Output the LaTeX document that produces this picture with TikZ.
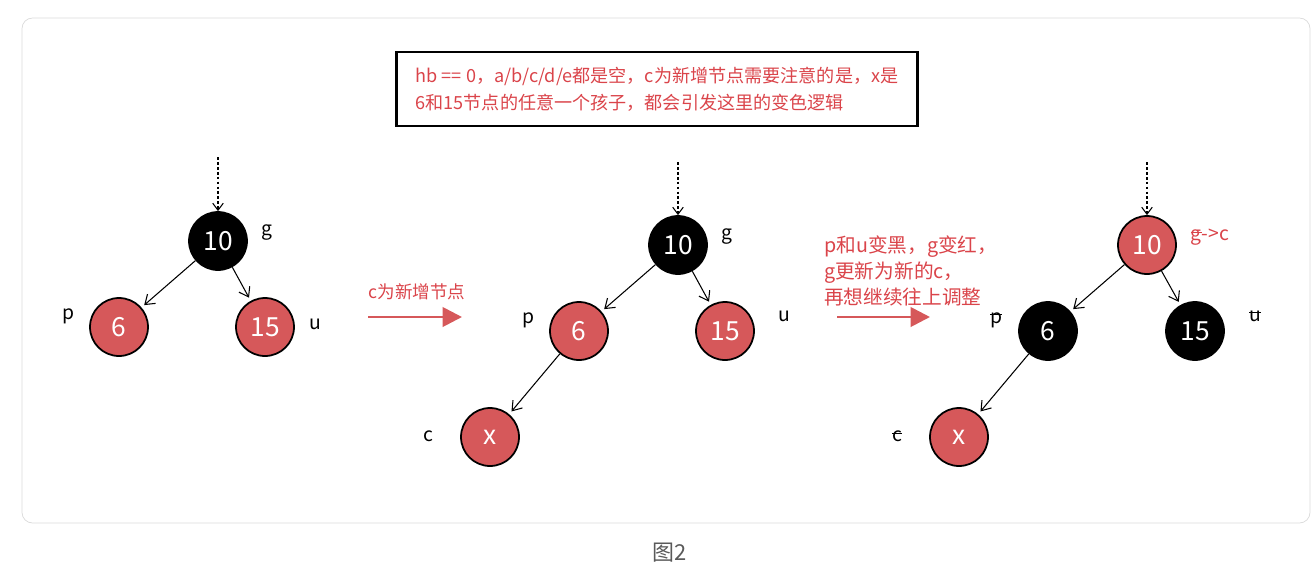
\documentclass[tikz,border=0pt]{standalone}
\usepackage{fontspec}
\setmainfont{Noto Sans CJK SC}
\usetikzlibrary{arrows.meta}
\definecolor{rbred}{RGB}{214,88,90}
\definecolor{txtred}{RGB}{218,68,74}
\definecolor{capgray}{RGB}{90,90,90}
\newcommand{\strk}[1]{\setbox0\hbox{#1}\rlap{\rule[0.75ex]{\wd0}{0.5pt}}\box0}
\tikzset{
  rbnode/.style={circle, draw=black, line width=1pt, minimum size=1.16cm, inner sep=0pt,
    text=white, font=\fontsize{15}{18}\selectfont},
  blknode/.style={rbnode, fill=black},
  rednode/.style={rbnode, fill=rbred},
  edge/.style={-{Straight Barb[length=5pt,width=7pt]}, line width=0.6pt, shorten >=2pt},
  dotarrow/.style={-{Straight Barb[length=4pt,width=6pt]}, dash pattern=on 1.6pt off 1.2pt, line width=0.6pt},
  lbl/.style={font=\fontsize{11}{13}\selectfont},
  redlbl/.style={text=txtred, font=\fontsize{10}{15}\selectfont, align=left},
  bigarrow/.style={-{Triangle[length=11pt,width=11pt]}, rbred, line width=1.6pt},
}
\begin{document}
\begin{tikzpicture}[x=0.02cm, y=-0.02cm]
  \useasboundingbox (0,0) rectangle (1316,569);
  % Tarjeta de fondo
  \draw[gray!30, rounded corners=6pt] (22,18) rectangle (1310,523);

  % Nota superior
  \node[draw=black, line width=1.6pt, minimum width=10.42cm, minimum height=1.48cm,
    text=txtred, font=\fontsize{10.3}{15.3}\selectfont, align=left] (note) at (657,89)
    {hb == 0，a/b/c/d/e都是空，c为新增节点需要注意的是，x是\\6和15节点的任意一个孩子，都会引发这里的变色逻辑};

  % Arbol 1
  \node[blknode] (g1) at (218,241) {10};
  \node[rednode] (p1) at (119,327) {6};
  \node[rednode] (u1) at (265,327) {15};
  \coordinate (t1) at (218,157);
  \draw[dotarrow] (t1) -- (g1);
  \draw[edge] (g1) -- (p1);
  \draw[edge] (g1) -- (u1);
  \node[lbl] (g1l) at (267,233) {g};
  \node[lbl] (p1l) at (68,316) {p};
  \node[lbl] (u1l) at (315,324) {u};

  % Flecha 1
  \node[redlbl] (a1l) at (417,292) {c为新增节点};
  \coordinate (a1s) at (368,317);
  \coordinate (a1e) at (462,317);
  \draw[bigarrow] (a1s) -- (a1e);

  % Arbol 2
  \node[blknode] (g2) at (678,245) {10};
  \node[rednode] (p2) at (579,331) {6};
  \node[rednode] (u2) at (725,331) {15};
  \node[rednode] (c2) at (490,437) {x};
  \coordinate (t2) at (678,162);
  \draw[dotarrow] (t2) -- (g2);
  \draw[edge] (g2) -- (p2);
  \draw[edge] (g2) -- (u2);
  \draw[edge] (p2) -- (c2);
  \node[lbl] (g2l) at (727,237) {g};
  \node[lbl] (p2l) at (528,320) {p};
  \node[lbl] (u2l) at (784,316) {u};
  \node[lbl] (c2l) at (428,436) {c};

  % Flecha 2
  \node[redlbl, anchor=north west, font=\fontsize{11.2}{14.7}\selectfont] (a2l) at (818,230)
    {p和u变黑，g变红，\\g更新为新的c，\\再想继续往上调整};
  \coordinate (a2s) at (837,317);
  \coordinate (a2e) at (930,317);
  \draw[bigarrow] (a2s) -- (a2e);

  % Arbol 3
  \node[rednode] (g3) at (1147,245) {10};
  \node[blknode] (p3) at (1048,331) {6};
  \node[blknode] (u3) at (1195,331) {15};
  \node[rednode] (c3) at (959,437) {x};
  \coordinate (t3) at (1147,162);
  \draw[dotarrow] (t3) -- (g3);
  \draw[edge] (g3) -- (p3);
  \draw[edge] (g3) -- (u3);
  \draw[edge] (p3) -- (c3);
  \node[lbl, text=txtred] (g3l) at (1210,237) {\strk{g}->c};
  \node[lbl] (p3l) at (996,320) {\strk{p}};
  \node[lbl] (u3l) at (1255,316) {\strk{u}};
  \node[lbl] (c3l) at (897,436) {\strk{c}};

  % Pie
  \node[text=capgray, font=\fontsize{12.5}{15}\selectfont] (cap) at (670,553) {图2};
\end{tikzpicture}
\end{document}
